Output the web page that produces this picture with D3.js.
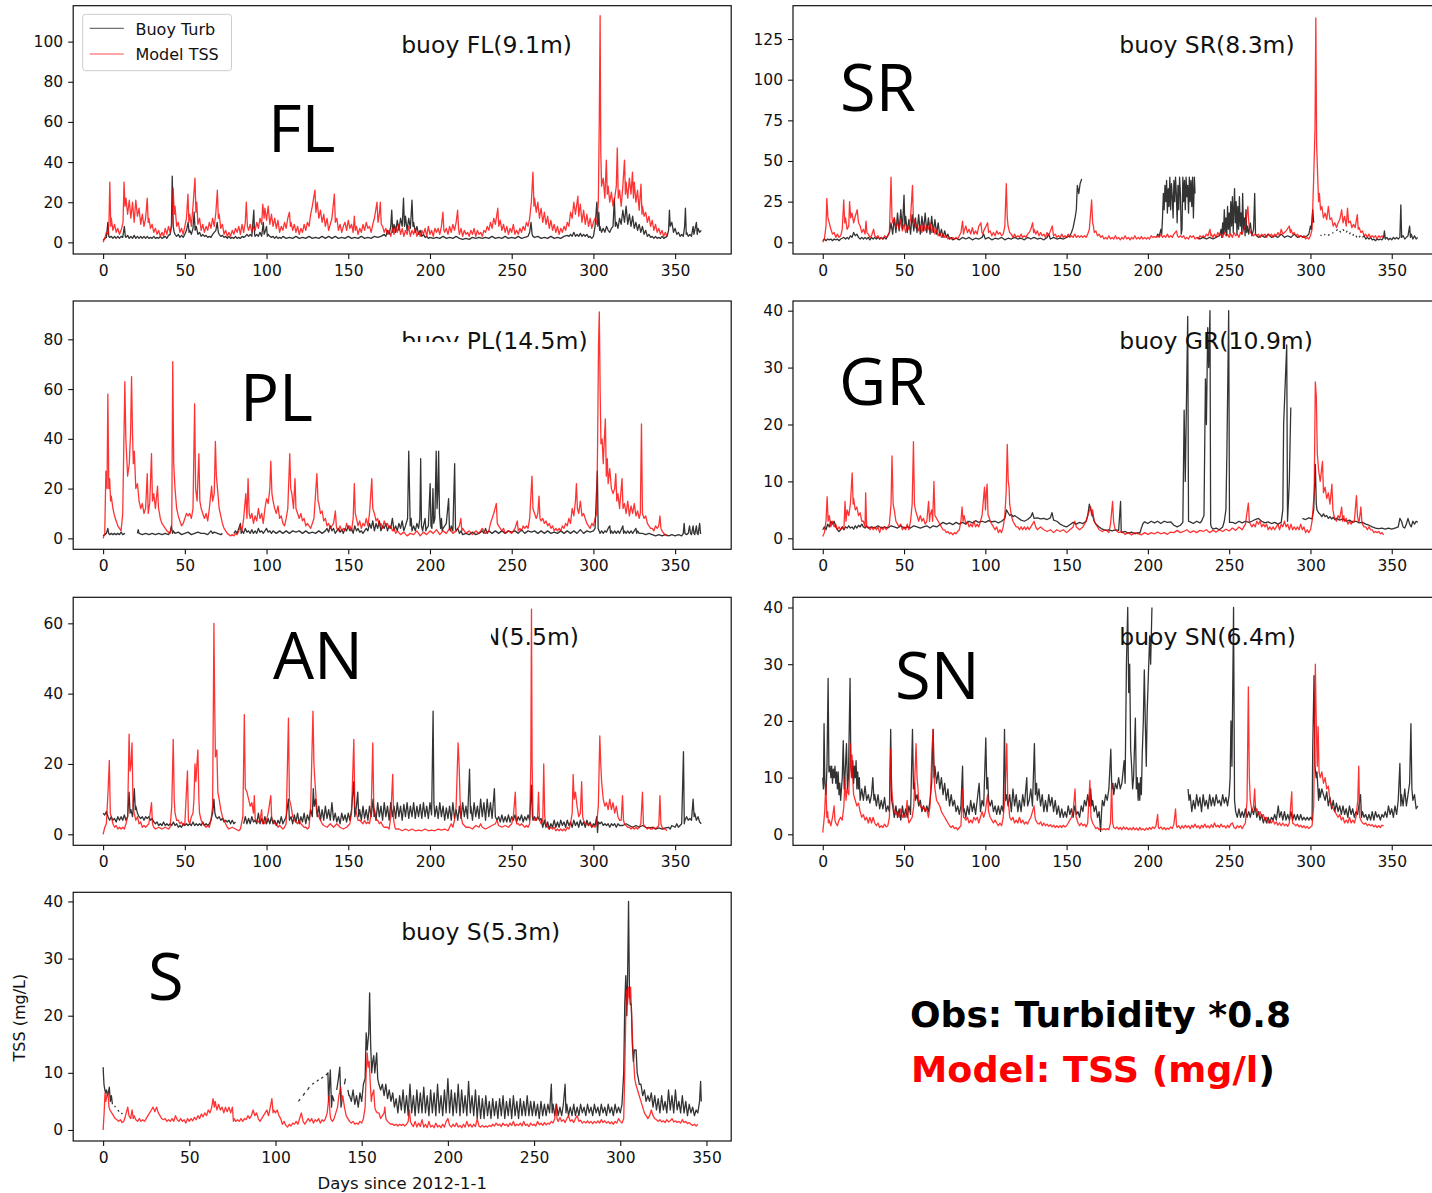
<!DOCTYPE html>
<html>
<head>
<meta charset="utf-8">
<script src="https://cdn.jsdelivr.net/npm/d3@7"></script>
<style>
  body { margin: 0; background: #fff; }
  svg text { font-family: "DejaVu Sans", sans-serif; }
</style>
</head>
<body>
<svg id="fig" width="1432" height="1193"></svg>
<script>
// ---- data: [day since 2012-1-1, value], null = no data ----
const flTurb = [[0,1],[1,2],[2,2.5],[2.9,10],[3.5,3],[4,2.5],[5,3],[6,2],[7,3],[8,2],[9,3],[10,2],[11,3],[12,2.5],[13,8],[13.6,3],[14,2.5],[15,3.5],[16,2],[17,3],[18,2],[19,3.5],[20,2],[21,3],[22,2],[23,3],[24,2],[25,3],[26,2],[27,3],[28,2],[29,2.5],[30,2],[31,3],[32,2],[33,2.5],[34,2],[35,3],[36,2],[37,2.5],[38,3],[39,2],[40,3.5],[41,4],[41.8,8],[42.3,33],[42.9,8],[43.5,5],[44,4],[45,3],[46,4],[47,2.5],[48,3.5],[49,2.5],[50,4],[51,6],[52,10],[52.6,5],[53,6],[54,4],[55,7],[55.7,15],[56.3,6],[57,8],[58,4],[59,5],[60,3],[61,4],[62,3],[63,3.5],[64,2.5],[65,3],[66,2.5],[67,4],[68,5],[69,6],[69.8,10],[70.5,5],[71,4],[72,3],[73,3.5],[74,2.5],[75,3],[76,2],[77,3],[78,2],[79,2.5],[80,2],[81,3],[82,2],[83,2.5],[84,2],[85,3],[86,2.5],[87,3],[88,4],[89,3],[90,4],[91,3],[92.2,16],[92.7,4],[93,3],[94,4],[95,3],[96,5],[97,3],[98,10],[98.5,4],[99,5],[100,8],[100.5,3],[101,4],[102,3],[103,2.5],[104,3],[105,2],[106,3],[107,2],[108,2.5],[109,2],[110,3],[112,2],[114,2.5],[116,2],[118,3],[120,2],[122,2.5],[124,2],[126,3],[128,2],[130,2.5],[132,2],[134,3],[136,2],[138,3],[140,2],[142,3],[144,2],[146,2.5],[148,2],[150,3],[152,2],[154,2.5],[156,2],[158,3],[160,2],[162,2.5],[164,2],[166,3],[168,2.5],[170,3],[172,4],[173,3],[174,6],[175,4],[176,8],[176.6,16],[177.2,5],[178,9],[179,5],[180,11],[181,6],[182,12],[183,8],[183.8,22],[184.4,8],[185,13],[186,6],[187,12],[188,7],[189,21],[189.6,8],[190,10],[191,5],[192,8],[193,4],[194,6],[195,3],[196,4],[197,2.5],[198,3],[199,2],[200,2.5],[202,2],[204,2.5],[206,2],[208,3],[210,2],[212,2.5],[214,2],[216,3],[218,2],[220,1.5],[222,2],[224,1.5],[226,2.5],[228,2],[230,2.5],[232,2],[234,2.5],[236,2],[238,3],[240,2],[242,2.5],[244,2],[246,3],[248,2],[250,2.5],[252,2],[254,3],[256,2],[258,2.5],[260,3],[261,5],[261.8,10],[262.5,4],[263,3],[264,2.5],[266,3],[268,2],[270,2.5],[272,2],[274,3],[276,2],[278,2.5],[280,2],[282,3],[284,3.5],[285,3],[286,4],[287,3],[288,5],[289,3],[290,4],[291,3],[292,4.5],[293,3],[294,4],[295,3],[296,4],[297,2.5],[298,3],[299,2],[300,3],[301,8],[302.1,20],[302.7,8],[303.3,15],[303.8,6],[304,8],[305,5],[306,7],[307,5],[308,8],[309,6],[310,5],[311,7],[312,8],[312.8,22],[313.4,8],[314,10],[315,7],[316,12],[317,9],[318,16],[319,10],[320,18],[321,9],[322,14],[323,8],[324,13],[325,7],[326,10],[327,6],[328,9],[329,5],[330,8],[331,4],[332,6],[333,3],[334,4],[335,2.5],[336,3],[337,2],[338,3],[339,2],[340,2.5],[341,2],[342,3],[343,2],[344,2.5],[345,3],[346,6],[346.5,16],[347,8],[348,10],[349,5],[350,7],[351,4],[352,5],[353,3],[354,4],[355,3],[355.8,8],[356.3,17],[356.8,4],[357,5],[358,3],[359,4],[360,3],[361,8],[361.5,4],[362,6],[363,10],[363.5,4],[364,7],[365,5],[366,6]];
const flTss = [[0,0],[1,2],[2,5],[3,4],[3.6,10],[4.1,30],[4.7,8],[5,12],[6,6],[7,9],[8,5],[9,7],[10,4],[11,6],[12.2,10],[12.8,30],[13.4,18],[14,22],[15,14],[16,21],[17,12],[18,20],[19,10],[20,21],[21,13],[22,17],[23,9],[24,14],[25,8],[26,12],[27,22],[27.6,10],[28,12],[29,7],[30,9],[31,5],[32,7],[33,4],[34,6],[35,3],[36,5],[37,3],[38,7],[39,4],[40,8],[41,5],[42,9],[42.9,27],[43.5,14],[44,18],[45,8],[46,10],[47,5],[48,7],[49,4],[50,8],[51,12],[51.9,24],[52.5,10],[53,14],[54,8],[55,18],[56.2,32],[56.8,15],[57.3,20],[58,9],[59,12],[60,6],[61,9],[62,5],[63,8],[64,6],[65,10],[66,7],[67,12],[68,8],[69,15],[69.9,26],[70.5,12],[71,14],[72,7],[73,9],[74,4],[75,6],[76,3],[77,5],[78,3],[79,6],[80,4],[81,7],[82,5],[83,8],[84,4],[85,9],[86,5],[87,10],[87.6,20],[88.3,8],[89,6],[90,9],[91,5],[92,8],[93,6],[94,10],[95,7],[96,12],[97,9],[97.7,19],[98.5,12],[99,17],[100,11],[101,18],[102,9],[103,14],[104,8],[105,12],[106,7],[107,11],[108,5],[109,8],[110,6],[111,10],[112,7],[113,12],[114,15],[114.6,8],[115,10],[116,6],[117,9],[118,5],[119,8],[120,4],[121,7],[122,5],[123,9],[124,6],[125,10],[126,8],[127,14],[128,18],[129.6,26],[130.2,15],[131,20],[132,12],[133,16],[134,10],[135,14],[136,8],[137,12],[138,6],[139,9],[140,12],[141.5,24],[142.1,10],[143,12],[144,6],[145,9],[146,5],[147,8],[148,10],[149,6],[150,11],[151,7],[152,9],[153,5],[153.7,13],[154.3,6],[155,8],[156,4],[157,7],[158,5],[159,9],[160,6],[161,10],[162,7],[163,8],[164,5],[165,9],[166,12],[167.6,20],[168.2,10],[169,14],[169.6,20],[170.2,9],[171,8],[172,5],[173,7],[174,4],[175,6],[176,3],[177,7],[178,4],[179,8],[180,5],[181,9],[182,4],[183,7],[184,3],[185,6],[186,4],[187,8],[188,3],[189,6],[190,4],[191,7],[192,3],[193,5],[194,3],[195,6],[196,4],[197,7],[198,3],[199,8],[200,4],[201,6],[202,3],[203,7],[204,5],[205,7],[206,4],[207,8],[207.9,15],[208.5,6],[209,5],[210,7],[211,4],[212,8],[213,5],[214,9],[215,6],[216,10],[216.9,16],[217.5,7],[218,4],[219,7],[220,3],[221,6],[222,4],[223,5],[224,3],[225,6],[226,4],[227,7],[228,3],[229,6],[230,4],[231,5],[232,3],[233,6],[234,5],[235,8],[236,6],[237,10],[238,7],[239,12],[240,9],[241.5,17],[242.1,8],[243,11],[244,6],[245,9],[246,5],[247,8],[248,4],[249,7],[250,5],[251,9],[252,4],[253,6],[254,4],[255,7],[256,5],[257,8],[258,6],[259,10],[260,8],[261,12],[262,20],[263,35],[263.6,18],[264,22],[265,15],[266,20],[267,12],[268,17],[269,10],[270,15],[271,9],[272,13],[273,7],[274,11],[275,6],[276,9],[277,5],[278,8],[279,4],[280,7],[281,5],[282,8],[283,6],[284,10],[285,8],[286,15],[287,12],[288,20],[289,14],[290.5,23],[291,13],[292,19],[293,10],[294,16],[295,9],[296,14],[297,8],[298,12],[299,7],[300,10],[301,12],[302,9],[303,20],[303.6,62],[304.1,113],[304.5,45],[305,28],[306,32],[307,22],[307.9,41],[308.5,24],[309,28],[310,20],[311,25],[312,18],[313,22],[314,28],[314.6,47],[315.2,22],[316,26],[317,18],[318,28],[319,41],[319.6,24],[320,30],[321,22],[322,32],[323,24],[323.9,35],[324.5,22],[325,30],[326,20],[327,26],[328,16],[329.1,29],[329.7,14],[330,18],[331,13],[332,15],[333,10],[334,13],[335,8],[336,11],[337,6],[338,9],[339,5],[340,7],[341,4],[342,6],[343,3],[344,5],[345,3]];

const srTurb = [[0,1],[1,2],[2,1],[3,2],[4,1.5],[5,2],[6,1],[7,2],[8,1.5],[9,2],[10,1],[11,2],[12,2.5],[13,3],[14,2],[15,3],[16,2],[17,4],[18,3],[19,6],[20,4],[21,5],[22,3],[23,2],[24,3],[25,2],[26,3],[27,2],[28,3],[29,1.5],[30,3],[31,2],[32,3],[33,2],[34,3],[35,2],[36,3],[37,2],[38,3],[39,2],[40,4],[41,6],[42,12],[43,5],[44,15],[45,6],[46,18],[47,7],[48,20],[49,8],[50,29],[50.5,10],[51,16],[52,6],[53,14],[54,5],[55,17],[56,7],[57,15],[58,6],[59,17],[60,5],[61,16],[62,7],[63,18],[64,6],[65,15],[66,5],[67,16],[68,6],[69,14],[70,5],[71,12],[72,4],[73,8],[74,3],[75,7],[76,3],[77,5],[78,2],[79,3],[80,1.5],[82,2.5],[84,1.5],[86,3],[88,2],[90,3],[92,1.5],[94,2.5],[96,2],[98,3],[99,5],[100,2],[102,3],[104,1.5],[106,2.5],[108,2],[110,3],[112,1.5],[114,2.5],[116,2],[118,3],[120,2],[122,2.5],[124,1.5],[126,3],[128,2],[130,3],[132,2],[134,2.5],[136,1.5],[138,3],[139,5],[140,2],[142,3],[144,2],[146,2.5],[148,2],[150,3],[152,4],[153,6],[154,9],[155.2,15],[156,20],[156.6,35],[157.5,30],[158.3,36],[159.3,39],[159.6,null],[205,null],[205.5,3],[206,5],[207,4],[208,8],[208.5,5],[209,15],[209.5,30],[210,20],[210.5,35],[211,25],[211.5,38],[212,18],[212.5,33],[213,22],[213.5,40],[214,20],[214.5,36],[215,28],[215.5,15],[216,38],[216.5,25],[217,40],[217.5,30],[218,12],[218.5,35],[219,20],[219.5,40],[220,30],[220.5,5],[221,8],[221.5,40],[222,25],[222.5,38],[223,20],[223.5,40],[224,28],[224.5,35],[225,18],[225.5,40],[226,25],[226.5,38],[227,22],[227.5,40],[228,15],[228.6,40],[229,30],[229.3,null],[230,null],[230.5,3],[232,2],[234,3],[236,2],[238,3],[240,2],[242,3],[244,4],[245,8],[245.5,3],[246,12],[246.5,5],[247,20],[247.5,6],[248,15],[248.5,4],[249,22],[249.5,8],[250,18],[250.5,5],[251,25],[251.5,10],[252,28],[252.5,6],[253.3,33],[253.8,12],[254.3,25],[254.8,5],[255.3,22],[255.8,8],[256.3,28],[256.8,10],[257.3,18],[257.8,5],[258.3,30],[258.8,8],[259.3,15],[259.8,4],[260.3,20],[260.8,6],[261.3,10],[262,5],[263,12],[264,4],[265,8],[265.7,30],[266.2,5],[267,4],[268,3],[270,4],[272,3],[274,5],[276,3],[278,4],[280,3],[282,5],[284,3],[286,4],[288,3],[290,5],[292,3],[294,4],[296,3],[298,4],[299,5],[300,10],[300.5,8],[301,15],[301.4,20],[302,12],[302.4,null],[306,null],[306.2,4],[306.8,4.5],[307,null],[308.5,5],[309.1,4.5],[309.3,null],[311,4],[311.6,5],[311.8,null],[313.5,6],[314.1,5.5],[314.3,null],[316,7],[316.6,8],[316.8,null],[318,7],[318.6,6],[318.8,null],[320,8],[320.6,7],[320.8,null],[322,6],[322.6,7],[322.8,null],[324,5],[324.6,6],[324.8,null],[326,4],[326.6,5],[326.8,null],[328,4],[328.6,3],[328.8,null],[330,3],[330.6,4],[330.8,null],[332,3],[333,4],[334,2],[335,3],[336,2],[337,3],[338,1.5],[339,2],[340,1],[341,2],[342,1.5],[343,2],[344,1.5],[345,3],[345.5,7],[346,2],[347,3],[348,1.5],[349,2.5],[350,1.5],[351,3],[352,2],[353,3],[354,2],[355,3],[355.6,23],[356.1,3],[357,4],[358,2],[359,3],[360,4],[361,10],[361.5,3],[362,5],[363,2],[364,4],[365,2],[366,3]];
const srTss = [[0,0],[1,2],[2,10],[2.5,27],[3.2,15],[4,12],[5,8],[6,5],[7,6],[8,3],[9,5],[10,3],[11,4],[12,8],[12.9,26],[13.5,12],[14,15],[15,8],[16,10],[16.5,25],[17.2,15],[18,18],[19,12],[20,16],[21.2,20],[22,12],[23,10],[24,6],[25,8],[26,5],[26.6,13],[27.2,6],[28,5],[29,3],[30,4],[31.3,8],[32,4],[33,3],[34,4],[35,2],[36,3],[37,2],[38,4],[39,3],[40,4],[41,6],[42,40],[42.6,15],[43,12],[44,15],[45,9],[46,12],[47,8],[48,14],[49,7],[50,11],[51,6],[52,10],[53,8],[54,15],[55.2,35],[55.8,12],[56.5,14],[57,9],[58,11],[59,7],[60,10],[61,6],[62,12],[63,7],[64,10],[65,8],[66,12],[67,6],[68,10],[69,5],[70,8],[71,4],[72,6],[73,3],[74,5],[75,3],[76,4],[77,2],[78,3],[79,2],[80,3],[81,2],[82,3],[83,2],[84,4],[85,6],[86,13],[86.6,5],[87,7],[88,10],[89,6],[90,8],[91,5],[92,9],[93,5],[94,7],[95,5],[96,10],[97.3,12],[97.9,6],[98.5,5],[99,7],[100,9],[101.4,12],[102,6],[103,7],[104,4],[105,6],[106,4],[107,7],[108,5],[109,6],[110,4],[111,5],[112,10],[112.9,36],[113.5,15],[114,10],[115,6],[116,5],[117,3],[118,5],[119,3],[120,4],[121,3],[122,5],[123,3],[124,4],[125,3],[126,5],[127,6],[128,8],[129.1,12],[129.7,6],[130,8],[131,5],[132,7],[133,4],[134,6],[135,4],[136,5],[137,3],[138,6],[139,4],[140,7],[141.2,10],[141.8,5],[142,4],[143,5],[144,3],[145,4],[146,3],[147,5],[148,3],[149,4],[150,3],[151,5],[152,3],[153,4],[154,3],[155,5],[156,3],[157,4],[158,3],[159,4],[160,3],[161,4],[162,3],[163,5],[164,8],[165.4,26],[166,12],[166.5,10],[167,6],[168,7],[169,4],[170,5],[171,3],[172,4],[173,2],[174,3],[175,2],[176,4],[177,2],[178,3],[179,2],[180,4],[181,2],[182,3],[183,1.5],[184,3],[185,2],[186,4],[187,2],[188,3],[189,1.5],[190,3],[191,2],[192,4],[193,2],[194,3],[195,2],[196,3.5],[197,2],[198,3],[199,2],[200,3],[201,2],[202,4],[203,3],[204,3.5],[205,3],[206,4],[207,3],[208,5],[209,3],[210,4],[211,3],[212,5],[213,3],[214,4],[215,3],[216,5],[217.6,7],[218.2,4],[219,3],[220,4],[221,3],[222,4],[223,2],[224,3],[225,2],[226,4],[227,3],[228,4],[229,2],[230,3],[231,2],[232,4],[233,3],[234,4],[235,3],[236,5],[237,4],[238.2,8],[238.8,4],[239,5],[240,3],[241,5],[242,3],[243,6],[244,4],[245,5],[246,3],[247,6],[248,4],[249,5],[250,3],[251,5],[252,3],[253,6],[254,4],[255,5],[256,3],[257,6],[258,5],[259,8],[260,10],[261.5,22],[262.1,12],[262.6,8],[263,6],[264,5],[265,4],[266,5],[267,4],[268,5],[269,3],[270,5],[271,4],[272,5],[273,3],[274,5],[275,4],[276,5],[277,3],[278,5],[279,4],[280,6],[281,4],[282,8],[283,5],[284,6],[285,7],[287,10],[287.6,6],[288,8],[289,5],[290,6],[291,4],[292,5],[293,3],[294,4],[295,3],[296,4],[297,2],[298,3],[299,2],[300,4],[301,8],[302,40],[302.8,70],[303.3,138],[303.8,60],[304.3,45],[305,25],[305.5,30],[306.2,20],[307,22],[308,15],[309,18],[310,14],[311,22],[312,14],[313,15],[314,10],[315,12],[316,9],[317,12],[318,14],[319.2,20],[320,12],[321,16],[322,10],[322.8,21],[323.5,12],[324.5,13],[325.5,9],[326.5,11],[327.5,9],[328.8,17],[329.4,8],[330,9],[331,6],[332,7],[333,4],[334,5],[335,3],[336,5],[337,3],[338,4],[339,3],[340,4],[341,2],[342,4],[343,3],[344,4],[345,2.5]];

const plTurb = [[0,1],[1,1.5],[2,2],[2.9,4],[3.4,2],[4,1.5],[5,2],[6,1.5],[7,2],[8,1.5],[9,2],[10,1.5],[11,2.5],[12,1.5],[13.4,2],[13.6,null],[20.8,null],[21,2],[21.5,3.5],[22,2],[24,1.5],[26,2],[28,1.5],[30,2],[32,1.5],[34,2],[36,1.5],[38,2],[40,1.5],[41,2.5],[41.8,5],[42.5,2],[43,3],[44,2],[46,2.5],[48,1.5],[50,2],[52,2.5],[54,1.5],[56,2],[58,2.5],[60,2],[62,2],[64,1.5],[66,3],[67,2],[68,2.5],[70,2],[72,1.5],[73,2],[73.3,null],[79.8,null],[80,2],[81,3],[82,2],[83,4],[84,6],[84.5,2],[85,3],[86,2],[87,4],[88,2.5],[89,3],[90,2],[91,3.5],[92,2],[93,3],[94,2],[95,4],[96,2.5],[97,3],[98,2],[99,3],[100,4],[101,2.5],[102,3],[103,2],[104,3],[106,2],[108,3],[110,2],[112,3],[114,2],[116,3],[118,2.5],[120,3],[122,2],[124,3],[126,2],[128,2.5],[130,2],[132,3],[134,2],[136,3],[137,4],[138,2.5],[139,5],[140,3],[141,4],[142,2],[143,3],[144,4],[145,2.5],[146,3.5],[147,2],[148,4],[149,3],[150,5],[151,3],[152,4],[153,2],[154,5],[155,3],[156,4],[157,2.5],[158,3],[159,2],[160,3],[161,4],[162,3],[163,6],[164,4],[165,7],[166,3],[167,6],[168,4],[169,7],[170,3],[171,5],[172,4],[173,6],[174,3],[175,5],[176,4],[177,8],[178,3],[179,5],[180,3],[181,6],[182,4],[183,7],[184,3],[185,5],[186.3,8],[187,35],[187.4,22],[187.9,5],[188.5,8],[189,3],[190,5],[191,3],[192,6],[193,4],[193.8,8],[194.3,32],[194.8,5],[195.5,3],[196,5],[197,8],[197.5,3],[198,4],[199,5],[200.1,22],[200.6,5],[201.2,4],[201.8,20],[202.3,6],[203,8],[203.8,35],[204.3,12],[204.8,18],[205.3,35],[205.8,10],[206.5,4],[207,8],[207.5,3],[208,4],[209,5],[210,6],[211.4,16],[211.9,4],[212.5,3],[213,5],[214,3],[215.1,30],[215.6,4],[216,3],[217,4],[218,2],[219,3],[220,1.5],[222,2],[224,1.5],[226,2.5],[228,1.5],[230,2],[232,3],[233,2],[234,4],[235,2],[236,3],[238,2],[240,3],[242,2],[244,3],[246,2],[248,3],[250,2.5],[252,3],[254,2],[256,3.5],[258,2],[260,3],[262,2.5],[264,3],[266,2],[268,3],[270,2],[272,3],[274,2],[276,2.5],[278,2],[280,3],[282,2],[284,3],[286,2],[288,3],[290,2],[292,3.5],[294,2],[296,3],[298,2.5],[300,3],[301,4],[302.4,27],[302.9,4],[303.5,3],[304,2],[305,3],[306,2],[307,3],[308,2.5],[309,4],[310,5],[310.5,2],[311,3],[312,2],[313,3],[314,2],[315,3],[316,2],[317,3.5],[318,5],[318.5,2],[319,3],[320,2],[321,3],[322,2],[323,3],[324,2],[325,3],[326,4],[326.5,2],[327,3],[328,2],[330,2],[332,1.5],[334,2],[336,1.5],[338,1],[340,1.5],[342,1],[344,1.5],[346,1],[348,1.5],[350,1],[352,1.5],[354,1],[355,2],[355.5,6],[356,2],[357,1.5],[358,2],[358.8,5],[359.4,2],[360,1.5],[361,5],[361.5,2],[362,1.5],[363,5],[363.5,2],[364,1.5],[365,6],[365.5,2],[366,2]];
const plTss = [[0,0],[1,2],[1.7,27],[2.4,20],[2.9,58],[3.5,20],[4,24],[4.6,15],[5,17],[6,12],[7,9],[8,7],[9,5],[10,4],[11,3],[12,10],[13.3,63],[13.9,40],[14.5,32],[15,25],[16,30],[16.8,42],[17.4,65],[18,42],[18.5,30],[19.1,35],[20,20],[21,22],[22,15],[23,12],[24,14],[25,10],[26,12],[27,26],[27.6,10],[28.5,14],[29.6,34],[30.2,15],[31,18],[32,12],[33.3,21],[33.9,12],[34.5,10],[35,8],[36,6],[37,5],[38,4],[39,3],[40,2.5],[41,2],[42,5],[42.6,71],[43.2,30],[44,20],[45,12],[46,9],[47,7],[48,5],[49,6],[50,8],[51,10],[52,9],[53,10],[54,8],[55,12],[56,54],[56.6,20],[57.5,15],[58.6,34],[59.2,15],[60,12],[61,10],[62,8],[63,10],[64,7],[65,12],[66.4,21],[67,15],[68,18],[68.7,39],[69.3,25],[70,20],[71,12],[72,9],[73,6],[74,4],[75,3],[76,2],[77,1.5],[78,1],[79,1.5],[80,1],[81,2],[82,1.5],[83,3],[84,5],[85,3],[86,8],[87.3,18],[88,8],[88.7,24],[89.4,10],[90,8],[91,10],[92,6],[93,9],[94,7],[95,12],[96,8],[97,10],[98,6],[99,12],[100,16],[101,14],[102,20],[102.6,31],[103.3,18],[104,15],[105,12],[106,10],[107,13],[108,8],[109,9],[110,6],[111,5],[112,8],[113,12],[114.2,34],[114.8,20],[115.5,18],[116.5,12],[117.4,24],[118,12],[119,10],[120,8],[121,10],[122,7],[123,8],[124,5],[125,6],[126,5],[127,4],[128,6],[129,8],[130.8,26],[131.5,15],[132,14],[133,10],[134,11],[135,7],[136,8],[137,5],[138,6],[139,4],[140,5],[141,6],[142.1,11],[142.7,5],[143,4],[144,3],[145,5],[146,3],[147,4],[148,3],[149,6],[150,4],[151,5],[152,3],[153,8],[153.7,22],[154.3,10],[155,8],[156,5],[157,7],[158,4],[159,6],[160,5],[161,8],[162,5],[163,10],[164.4,24],[165,12],[166,10],[167,7],[168,8],[169,5],[170,6],[171,4],[172,7],[173,5],[174,6],[175,4],[176,5],[177,3],[178,4],[179,2],[180,3],[182,1.5],[184,2.5],[186,1],[188,2],[190,1.5],[192,3],[194,1],[196,2.5],[198,1.5],[200,3],[202,2],[204,3.5],[206,1.5],[208,3],[210,2],[212,4],[214,2],[216,3],[218,5],[218.9,8],[219.5,3],[220,4],[222,2],[224,3],[226,1.5],[228,3],[230,2],[232,4],[234,2],[236,3],[237,6],[238,8],[239,10],[240.6,14],[241.2,6],[242,5],[243,4],[244,3],[245,4],[246,2],[248,3],[250,2],[252,4],[253.4,7],[254,3],[255,4],[256,3],[257,5],[258,4],[259,5],[260,4],[261,8],[262.4,25],[263,12],[264,10],[265,8],[266,10],[266.7,17],[267.3,8],[268,7],[269,8],[270,6],[271,7],[272,5],[273,6],[274,4],[275,5],[276,3],[277,4],[278,3],[279,4],[280,3],[281,5],[282,4],[283,6],[284,5],[285,8],[286,6],[287,12],[288,9],[289,15],[289.6,22],[290.2,12],[291,10],[292,15],[293,9],[294,10],[295,8],[296,6],[297,5],[298,4],[299,6],[300,5],[301,8],[302,10],[302.6,40],[303.1,77],[303.6,91],[304.1,60],[304.6,38],[305.3,40],[306,30],[306.7,40],[307.3,48],[307.9,25],[308.5,32],[309,22],[310,28],[311,20],[312,18],[313,20],[313.7,26],[314.3,15],[315,18],[316,12],[317.5,24],[318.1,12],[319,14],[320,10],[321,15],[322,9],[323,13],[324,10],[325,14],[326,9],[327,11],[328,8],[328.7,10],[329.4,46],[330,10],[331,8],[332,9],[333,6],[334,5],[335,4],[336,4],[337,3],[338,5],[339,4],[340,5],[340.7,9],[341.3,4],[342,3],[343,2],[344,1.5],[345,1]];

const grTurb = [[0,1.5],[1,2],[2,1.5],[3,2.5],[4,2],[5,3],[6,2.5],[7,3],[8,2],[9,1.5],[10,1.2],[11,1.5],[12,2],[13,1.5],[14,2],[15,1.8],[16,2.2],[17,1.8],[18,2],[19,1.6],[20,2.2],[21,1.8],[22,2.3],[23,2],[24,2.5],[25,2],[26,1.8],[27,2.2],[28,1.8],[30,2],[32,1.8],[34,2.2],[36,1.8],[38,2],[40,1.8],[42,2.2],[44,2],[46,1.8],[48,2.2],[50,1.8],[52,2],[54,1.8],[56,2.2],[58,2],[60,1.8],[62,2],[64,2.2],[66,1.8],[68,2.2],[70,2],[72,2.4],[74,2.8],[76,2.5],[78,2.7],[80,2.4],[82,2.8],[84,2.5],[86,2.8],[88,2.5],[90,3],[92,2.7],[94,3.1],[96,2.8],[98,3],[100,2.8],[102,3.1],[104,2.9],[106,3],[108,2.7],[110,3],[112,3.5],[113,5],[114,4.5],[115,4],[116,4.2],[117,3.8],[118,4],[120,3.6],[122,3.2],[124,3],[126,3.3],[128,3.8],[129,4.5],[130,3.5],[132,3.6],[134,3.4],[136,3.5],[138,3.3],[140,3.6],[141,4.5],[142,3.2],[144,3],[146,2.5],[148,2.2],[150,2],[152,2.4],[154,2.8],[156,2.5],[158,2.8],[160,2.6],[162,3],[163,4],[164,6],[165,5],[166,4],[167,3],[168,2.5],[170,2],[172,1.6],[174,1.4],[176,1.5],[178,1.3],[180,1.5],[182,1.4],[183.2,6.5],[183.6,1.2],[184,1],[186,1.2],[188,0.9],[190,1.1],[192,0.8],[194,1],[195,0.9],[196,1.8],[197,2.6],[198,2.9],[200,2.6],[202,3],[204,2.7],[206,3],[208,2.6],[210,3],[212,2.8],[214,2.9],[216,2.3],[218,2],[220,2.3],[221.5,2.8],[222.3,22.5],[223,10],[224.5,39],[225,3],[226,2.9],[228,2.6],[230,3],[232,2.7],[233,3],[234.5,4],[235.4,28],[236,20],[236.8,37],[237.4,30],[238.2,40],[238.6,2.5],[239,2],[240,1.6],[242,1.8],[244,1.5],[246,2],[247,3],[248,5],[248.6,15],[249.7,40],[250.2,2.8],[252,2.8],[254,2.6],[256,3],[258,2.7],[260,3],[262,2.8],[264,3],[266,3.3],[268,3.5],[270,3],[272,2.7],[274,2.9],[276,2.6],[278,2.8],[280,2.5],[282,2.8],[283,5],[283.5,20],[285.4,34],[285.9,3],[287,10],[287.9,23],[288.2,null],[294.8,null],[295,3.5],[297,3.3],[299,3.6],[301,3.4],[302,5],[303,13],[303.6,6],[304,5],[305,4.5],[306,4.2],[307,3.8],[308,4.3],[309,3.8],[310,4],[311,3.5],[312,3.8],[313,3.4],[314,3.7],[315,3.3],[316,3.5],[318,3.2],[320,3.4],[322,3],[324,3.2],[326,2.8],[328,3],[330,2.7],[332,2.8],[334,2.5],[336,2.3],[338,2],[340,1.8],[342,1.7],[344,1.8],[346,1.6],[348,1.8],[350,1.6],[352,1.8],[354,2],[355,3.5],[356,3],[357,2],[358,1.8],[359,2.5],[360,3.5],[361,2.5],[362,2],[363,3],[364,2.5],[365,3],[366,2.8]];
const grTss = [[0,0.3],[1,1],[2,3],[2.7,7.3],[3.3,3],[4,4],[5,2],[6,3],[7,2],[8,2.5],[9,1.5],[10,2],[11,1.5],[12,2],[13,1.5],[13.7,6.5],[14.3,3],[15,5],[16,4],[17,6],[18.1,11.5],[18.7,6],[19,7],[20,5],[21,5.5],[22,4],[23,4.5],[24,3],[25,3],[26,2],[26.4,8],[27,2],[28,2],[29,1.5],[30,2],[31,1.5],[32,2],[33,1.5],[34,2],[35,1],[36,2],[37,1.5],[38,2],[39,1.5],[40,2],[41,2.5],[42,6],[42.6,14.5],[43.3,6],[44,5],[45,3],[46,2.5],[47,2],[48,2.5],[49,1.5],[50,2],[51,1.5],[52,2.5],[53,1.5],[54,3],[55,6],[55.8,17],[56.4,6],[57,5],[58,4],[59,3],[60,4],[61,3],[62,3.5],[63,2.5],[64,3],[65.1,6.5],[65.7,3],[66,4],[67,5],[67.6,3],[68.4,10],[69,4],[70,3.5],[71,3],[72,2.5],[73,2],[74,1.5],[75,1.5],[76,1],[77,1.2],[78,0.8],[79,1],[80,0.6],[81,1],[82,0.8],[83,1.2],[84,1.5],[85,3],[85.7,5.5],[86.3,3],[87,4],[88,2.5],[89,3],[90,2],[91,2.5],[92,2],[93,3],[94,2],[95,2.5],[96,2],[97,3],[98,4],[99.5,9],[100.1,5],[100.6,8],[101.1,9.5],[101.7,4],[102,4],[103,3],[104,2.5],[105,2],[106,1.5],[107,2],[108,1],[109,1.5],[110,1],[111,2],[112,4],[112.8,8],[113.5,16.5],[114.1,10],[114.6,9],[115,6],[116,4],[117,3],[118,2.5],[119,2],[120,2],[121,1.5],[122,2],[123,1.5],[124,2],[125,1.5],[126,2],[127,1.5],[128,2],[129,2.5],[130,3],[131,2],[132,1.5],[134,2],[136,1.5],[138,1.2],[140,1.5],[142,1],[144,1.5],[146,1.2],[148,1.5],[150,1],[152,1.5],[154,2],[155,3],[156,2],[158,1.5],[160,2],[161,2.5],[162,3],[163,4],[164.8,5.5],[165.4,4],[166,5],[167,3],[168,2.5],[169,2],[170,1.5],[172,1.2],[174,1.5],[176,1],[177,2.5],[178.3,6.5],[178.9,3],[179.5,2],[180,1.5],[182,1],[184,1.2],[186,0.7],[188,1],[190,0.6],[192,1],[194,0.8],[196,0.6],[198,1],[200,0.7],[202,1],[204,0.8],[206,1.1],[208,0.8],[210,1],[212,0.7],[214,1.1],[216,1],[218,1.4],[220,1],[222,1.2],[224,1.5],[226,1],[228,1.3],[230,1],[232,1.4],[234,1.2],[236,1.5],[238,1],[240,1.4],[242,1.1],[244,1.5],[246,1.2],[248,1.6],[250,1.3],[252,1.8],[254,1.4],[256,2],[258,1.5],[259,2],[260,2.5],[261.8,6.2],[262.4,3],[263,2.5],[264,2],[265,2.5],[266,2],[267,3],[268,2.5],[269,3],[270,2],[271,2.5],[272,2],[273,2.5],[274,1.5],[275,2],[276,1.5],[277,2],[278,1.5],[279,2],[280,2.5],[281,1.5],[282,2.5],[283,2],[284,3],[285,2],[286,2.5],[287,1.5],[288,2.5],[289,1.5],[290,2],[291,1.5],[292,2],[293,1.5],[294,2.5],[295,1.5],[296,2],[297,1],[298,1.5],[299,1],[300,1.5],[301,3],[302.3,8],[303,27.5],[303.6,25],[304.2,15],[305,12],[306,10],[307.4,13.5],[308,8],[309,9],[310,7],[311,8],[312,6],[313.2,9.5],[313.8,5],[314.5,4],[315,3.5],[316,3],[317,4],[318,3.5],[319.2,5.5],[319.8,3],[320.5,4],[321,3],[322,3.5],[323,2.5],[324,3],[325,2.5],[326,3],[327,3],[328.3,7.5],[328.9,4],[329.5,3],[330,3],[331,5.5],[331.6,3],[332,2.5],[333,2],[334,2],[335,1.5],[336,2],[337,1.5],[338,1.5],[339,1],[340,1.2],[341,1],[342,1.2],[343,0.8],[344,1],[345,0.6]];

const anTurb = [[0,6],[1,5.5],[2,6.5],[3,5],[4,4],[5,5],[6,4],[7,4.5],[8,3.5],[9,5],[10,4],[11,5],[12,4],[13,5.5],[14,4],[15,5],[15.9,12],[16.5,6],[17,7],[18,5],[19.1,13],[19.7,7],[20,8],[21,6],[22,5],[23,4.5],[24,5],[25,4],[26,5],[27,4.5],[28,5],[29,4],[30,4.5],[31,3.5],[32,3],[33,3.5],[34,2.5],[35,3],[36,2.5],[37,3.5],[38,2.5],[39,3],[40,2.5],[41,3],[42,2.5],[43,3.5],[44,2.5],[45,3],[46,2],[47,2.5],[48,2],[49,3],[50,2.5],[51,3],[52,2.5],[53,3],[54,2.5],[55,3.5],[56,2.5],[57,3],[58,2.5],[59,3],[60,2.5],[61,3.5],[62,2.5],[63,3],[64,2.5],[65,3],[66,4],[67,6],[67.8,10],[68.4,6],[69,5],[70,4.5],[71,5],[72,4],[73,4.5],[74,3.5],[75,4],[76,3.5],[77,4],[78,3],[79,4],[80,3],[81,3.5],[81.3,null],[85.8,null],[86,3],[87,5],[88,3],[89,4.5],[90,3],[91,5],[92,3.5],[93,4],[94,3],[95,6],[96,3],[97,4.5],[98,3],[99,5],[100,3],[101,4.5],[102,3],[103,5],[104,3],[105,4],[106,2.5],[107,4],[108,3],[109,5],[110,3],[111,4],[112,5],[113.4,10],[114,4],[115,5],[116,3],[117,5.5],[118,3.5],[119,6],[120,3],[121,5],[122,3.5],[123,6],[124,3],[125,5.5],[126,4],[127,7],[128,5],[128.6,13],[129.2,8],[130,10],[131,5],[132,8],[133,4],[134,7],[135,4],[136,8],[137,4.5],[138,7],[139,4],[140,9],[141,4],[142,6],[143,3.5],[144,5],[145,3],[146,6],[147,4],[148,5.5],[149,3.5],[150,6],[151,4],[152,7],[153.4,15],[154,5],[155,8],[155.8,12],[156.4,5],[157,7],[158,4],[159,8],[160,4.5],[161,7],[162,4],[163,8],[164,5],[165.2,10],[165.8,5],[166,7],[167,4],[168,9],[169,5],[170,8],[171,4],[172,9],[173,5],[174,8],[175,4],[176,9],[177,5],[178,8],[179,4.5],[180,9],[181,5],[182,8],[183,4],[184,8.5],[185,5],[186,9],[187,4.5],[188,8],[189,5],[190,9],[191,4.5],[192,8],[193,5],[194,8.5],[195,4.5],[196,9],[197,5],[198,8],[199,4.5],[200,9],[201,5.5],[201.9,35],[202.4,9],[203,5],[204,8],[205,4.5],[206,9],[207,5],[208,8],[209,4],[210,7.5],[211,4.5],[212,8],[213,4],[214,9],[215,4.5],[216,7],[217,4],[218,8],[219,4.5],[220,9],[221,5],[222,8],[223,4.5],[224.2,18.5],[224.8,6],[225,8],[226,4],[227,9],[228,5],[229,8],[230,4.5],[231,10],[232,5],[233,9],[234,4],[235,10],[236,5],[237,9],[238,4.5],[239.4,13],[240,5],[241,4],[242,5],[243,3.5],[244,5.5],[245,3.5],[246,5],[247,3.5],[248,5.5],[249,3.5],[250,5],[251,4],[252,5.5],[253,3.5],[254,5],[255,4],[256,5.5],[257,3.5],[258,5],[259,4],[260,5.5],[261,4],[262.1,14],[262.7,5],[263,4],[264,5],[265,4],[266,5],[267,4],[268,4.5],[269,2],[270,4],[271,2],[272,3.5],[273,1.5],[274,3],[275,2],[276,4],[277,2],[278,3.5],[279,2],[280,4],[281,2.5],[282,3.5],[283,2],[284,4],[285,2.5],[286,3.5],[287,2],[288,4],[289,2.5],[290,3.5],[291,2],[292,4],[293,2.5],[294,3.5],[295,2],[296,4],[297,2.5],[298,3.5],[299,2],[300,3],[301,2.5],[302,5],[302.5,0.5],[303,3.5],[304,3],[305,3.5],[306,2.5],[307,3],[308,2.5],[309,3],[310,2],[311,3],[312,2.5],[313,3],[314,2],[315,3],[316,2.5],[318,2.5],[320,3],[322,2.5],[324,2],[326,2.5],[328,2],[330,2.5],[332,2],[334,1.8],[336,2],[338,1.5],[340,1.8],[342,1.5],[344,1.8],[346,2],[347,1.5],[348,2.5],[350,2],[351,3],[352,2],[353,2.5],[354,3],[355.1,23.5],[355.6,3],[356,4],[357,5],[358,4],[359,4.5],[360,4],[361,10],[361.6,5],[362,6],[363,4],[364,5],[365,3.5],[366,3]];
const anTss = [[0,0],[1,2],[2,3],[3,12],[3.8,21],[4.4,6],[5,5],[6,3],[7,2],[8,2.5],[9,1.5],[10,2],[11,1.5],[12,2],[13,1.5],[14,3],[15,5],[15.9,28.5],[16.5,18],[17.1,20],[17.7,26],[18.3,8],[19,6],[20,4],[21,5],[22,3],[23,3.5],[24,2],[25,2.5],[26,2],[27,2.5],[28,3],[29.6,9],[30.2,3],[31,2],[32,1.5],[34,2],[36,1.5],[38,2],[40,1.5],[41,2],[42,8],[42.9,27],[43.5,10],[44,6],[45,4],[46,4],[47,3],[48,3.5],[49,2.5],[50,3],[51.6,18],[52.2,4],[53,3],[54,5],[55,6],[55.6,10],[56.2,20],[56.8,15],[57.4,20],[58,24],[58.6,10],[59,6],[60,4],[61,3],[62,2.5],[63,2],[64,2.5],[65,2],[66,4],[67,8],[67.5,40],[67.8,60],[68.2,40],[68.7,22],[69.6,24],[70.2,12],[71,10],[72,7],[73,5],[74,4],[75,3],[76,2],[77,1.5],[79,2],[81,1.5],[83,1],[84,1.5],[85.5,5],[86.4,34],[87,13],[88,12],[89,10],[90,8],[91,9],[92,6],[92.5,11],[93.1,4],[94,4],[95,3.5],[96,4],[97,7],[97.6,3],[98,4],[99,3],[100,4],[101,6],[102.6,11],[103.2,4],[104,4],[105,3],[106,3],[107,2],[108,2.5],[109,2],[110,1.5],[111,2],[112,3],[113.4,33],[114,10],[115,8],[116,5],[117,4],[118,3.5],[119,3],[120,4],[121,3],[122,2.5],[123,2],[124,2],[125,1.5],[126,2],[127,8],[128.4,35],[129,20],[129.6,15],[130.5,9],[131,6],[132,5],[133,4],[134,3],[135,2.5],[137,2],[139,3],[141,2],[143,3],[145,2],[147,1.5],[149,2],[151,3],[152,6],[153.4,27],[154,8],[155,6],[156,4],[157,4],[158,3.5],[159,3],[160,4],[161,3],[162,3.5],[163,3],[164,6],[165,26],[165.6,8],[166.2,6],[167,4],[168,4],[169,3],[170,3.5],[171,2.5],[172,2],[173,2],[174,2],[175,1.5],[176,5],[177.2,17],[177.8,4],[178.5,2],[179,1.5],[181,1.5],[183,1],[185,1.5],[187,1],[189,1.5],[191,1],[193,1.2],[195,1],[197,1.5],[199,1],[201,1.2],[203,1],[205,1.5],[207,1.2],[209,1.5],[211,1],[212,2],[213,3],[214,2],[215,4],[216,8],[217.2,26],[217.8,20],[218.4,10],[219,5],[220,3],[221,2.5],[222,2],[224,2],[226,1.5],[228,2.5],[230,2],[231,3],[232,2],[234,1.5],[236,2],[238,2.5],[240,3],[241,4],[242,2.5],[244,2],[246,2.5],[248,2],[250,3],[251,5],[252.2,12],[252.8,4],[253,3],[254,3],[255,2.5],[256,3],[257,2.5],[258,2],[259,2.5],[260,2],[261,3],[261.7,20],[262.1,64],[262.5,20],[263,5],[264,4],[265,4],[265.8,5],[266.4,12],[267,4],[268,3],[269,4],[269.6,20],[270.2,5],[271,3],[272,2],[273,1.5],[274,2],[275,1.5],[276,2],[277,1],[278,1.5],[279,1],[280,1.5],[281,1],[282,1.5],[283,1],[284,2],[285,1.5],[286,3],[287,6],[287.6,17],[288.2,10],[289,12],[290,8],[291,5],[292,6],[292.8,15],[293.4,5],[294,4],[295,3],[296,3],[297,2.5],[298,3],[299,2],[300,2.5],[301,2],[302,3],[303,8],[303.9,28],[304.5,20],[305,15],[306,10],[307,8],[308,9],[309,7],[310,10],[311,7],[312,9],[313,6],[314,8],[315,5],[316,4],[317,4],[317.8,11],[318.4,4],[319,3],[320,2.5],[321,2],[322,2],[323,1.5],[324,2],[325,1.5],[326,2],[327,1.5],[328,2],[329,3],[330,12],[330.6,3],[331,2.5],[332,2],[333,1.5],[334,2],[335,1.5],[336,1.5],[337,2],[338,1.5],[339,2],[340,2.5],[340.7,11],[341.3,3],[342,2],[343,1.5],[344,1.5],[345,1]];

const snTurb = [[0,10],[0.4,8],[0.8,19.5],[1.3,9],[2,7],[2.6,12],[3.3,27.5],[3.8,11],[4.5,12],[5,10],[5.5,12],[6,9],[6.5,11.5],[7,10],[7.5,12],[8,9],[8.5,11],[9,8],[9.5,11],[10,7],[10.5,9],[11,6],[11.5,8],[12,10],[12.6,16.5],[13.2,8],[13.8,11],[14.6,16],[15.2,8],[15.8,10],[16.8,27.5],[17.3,12],[18,10],[18.5,13],[19,9],[19.5,12],[20,10],[20.5,13],[21,8],[21.5,11],[22,8],[22.5,10],[23,6],[24,8],[25,6],[26,8.5],[27,6],[28,7],[29,5.5],[30,7],[30.8,10],[31.5,6],[32,7],[33,5],[34,7],[35,4.5],[36,6],[37,4.5],[38,6.5],[39,4],[40,5],[41,4],[41.8,18.5],[42.4,6],[43,5],[44,3],[45,5],[46,3],[47,4.5],[48,2.5],[49,5],[50,3],[51,4.5],[52,3],[53,5],[54,3.5],[55.2,18.5],[55.8,8],[56.5,9],[57,6],[58,7],[59,5],[60,6],[61,4],[62,5],[63,4],[64,5],[65,4],[66,6],[67,9],[67.9,18.5],[68.5,10],[69,12],[70,9],[71,11],[72,8],[73,10],[74,7],[75,9],[76,6],[77,8],[78,5],[79,7],[80,5],[81,6],[82,4],[83,5],[84,3.5],[85,5],[86,12],[86.5,4],[87,4.5],[88,3],[89,5],[90,3.5],[91,6],[92,4],[93,5.5],[94,3.5],[95,6],[96.2,9],[97,4],[98,6],[99,5],[100.3,17],[100.9,8],[101.5,10],[102,6],[103,5],[104,6],[105,4],[106,5],[107,3.5],[108,5],[109,3.5],[110,5],[111,4],[111.8,18.5],[112.4,6],[113,7],[114,5],[115,7],[116,4],[117,8],[118,5],[119,7],[120,4],[121,6],[122,4],[123,7],[124,5],[125.5,10],[126,5],[127,6],[128,8],[129,5],[130.2,16],[130.8,7],[131.5,9],[132,6],[133,8],[134,5],[135,7],[136,4],[137,6],[138,4],[139,7],[140,5],[141,6.5],[142,4],[143,6],[144,3.5],[145,5],[146,3],[147,4.5],[148,3],[149,4],[150,3],[151,5],[152,3.5],[153,4.5],[154,3],[155,5],[156,3.5],[157,4],[158,3],[159,5],[160,4],[161,6],[162,5],[163,7],[164,5],[164.8,8],[165.5,5],[166,6],[167,4],[168,5],[169,3],[170,4],[170.9,0.5],[171.5,4],[172,6],[173,5],[174,7],[175,6],[176,8],[177.2,15],[177.8,8],[178.5,9],[179,7],[180,9],[181,8],[182,10],[183,8],[184,9],[185.4,13],[186,9],[186.8,30],[187.6,40],[188.2,25],[188.8,30],[189.4,15],[190,12],[190.6,8],[191.2,10],[192.3,20.5],[192.9,8],[193.5,10],[194,6],[194.5,9],[195,6],[195.5,10],[196,7],[196.5,14],[197.2,20],[197.8,29],[198.4,20],[199,12],[199.6,22],[200.3,28],[201.1,35],[201.7,30],[202.5,40],[202.8,null],[224.5,null],[224.7,8],[225.3,6],[226,7],[227,4],[228,6],[229,4.5],[230,7],[231,5],[232,6.5],[233,4],[234,7],[235,5],[236,6],[237,4.5],[238,7],[239,5],[240,6.5],[241,5],[242,7],[243,5.5],[244,6],[245,5],[246,7],[247,5.5],[248,6.5],[249,5],[250,7],[250.6,10],[251.1,20],[251.7,12],[252.7,40],[253.3,6],[254,4],[255,3],[256,4.5],[257,3],[258,4],[259,3],[260,4.5],[261,3],[262,4],[263,3],[264,4.5],[265,3.5],[266,5],[267,3],[268,4],[269,2.5],[270,3.5],[271,2],[272,3],[273,2],[274,3],[275,2],[276,3],[277,2.5],[278,3.5],[279,2.5],[280.2,5],[281,3],[282,4],[283,2.5],[284,4],[285,2.5],[286,3.5],[287,2.5],[288,4],[289,2.5],[290,3.5],[291,2.5],[292,3.5],[293,2.5],[294,3.5],[295,2.5],[296,3],[297,2.5],[298,3],[299,2.5],[300,3],[301,2.5],[301.4,15],[302.2,28],[302.8,12],[303.5,10],[304,11],[305,6],[305.5,8],[306,6.5],[307,8],[308,7],[309,6],[310,7.5],[311,5],[312,6.5],[313,4.5],[314,6],[315,4],[316,5.5],[317,4],[318,5],[319,3.5],[320,5],[321,3.5],[322,4.5],[323,3],[324,5],[325,3.5],[326,4.5],[327,3],[328,4],[329,3.5],[330.8,7],[331.4,3],[332,4],[333,3],[334,3.5],[335,2.5],[336,3.5],[337,2.5],[338,4],[339,2.5],[340,4],[341,3],[342,3.5],[343,2.5],[344,3.5],[345,3],[346,4],[347,3],[348,5],[349,3.5],[350,4.5],[351,3],[352,5],[353,3.5],[354,6],[355,12.5],[355.6,5],[356,7],[357,5],[358,8],[359,5],[360,7],[361,9],[361.8,19.5],[362.4,8],[363,6],[364,7],[365,4.5],[366,5]];
const snTss = [[0,0.3],[0.6,2],[1.2,4],[1.9,9],[2.5,3],[3,4],[3.5,2],[4,2.5],[5,1.5],[6,3],[7,5],[7.5,2.5],[8,2],[9,1.5],[10,2.5],[11,3],[12,2.5],[13,5],[13.7,10],[14.3,6],[15,8],[16,7],[17,16],[17.6,10],[18,14],[18.6,9],[19,7],[20,6],[21,5],[22,5.5],[23,4],[24,3],[25,3.5],[26,2.5],[27,3],[28,2],[29,3],[30,2],[31,3],[32,2],[33,1.5],[34,2],[35,1.2],[36,1.5],[37,1.2],[38,1.8],[39,1.3],[40,1.5],[41,3],[41.8,15],[42.4,8],[43,6],[44,4],[45,3.5],[46,4],[47,3],[48,4.5],[49,3],[50,3.5],[51,3],[51.9,6],[52.5,3],[53,2],[54,2.5],[55,3],[56,5],[57.4,16],[58,10],[58.6,8],[59,6],[60,5],[61,4.5],[62,5],[63,4],[64,4.5],[65,3],[66,5],[67.2,15],[67.9,18.5],[68.5,10],[69,8],[70,6],[71,5.5],[72,5],[73,4],[74,3.5],[75,3],[76,2.5],[77,2],[78,1.5],[79,1.2],[80,1.5],[81,1],[82,1.2],[83,0.8],[84,1.2],[85,1.5],[86,8],[86.6,3],[87,3],[88,2.5],[89,3],[90,2],[91,2.5],[92,2],[93,3],[94,2.5],[95,3],[96,2],[97,3],[98,4],[99,3],[100,4],[101.4,7],[102,4],[103,3],[104,2.5],[105,2],[106,2.5],[107,2],[108,1.5],[109,2],[110,1.5],[111,3],[112,6],[113.2,16],[113.8,6],[114.4,5],[115,3],[116,2.5],[117,3],[118,2],[119,2.5],[120,2],[121,3],[122,2],[123,2.5],[124,1.8],[125,2.2],[126,1.8],[127,2.5],[128,3],[129,4],[130,5],[130.6,3],[131,2.5],[132,2],[133,1.8],[134,2.2],[135,1.5],[136,2],[137,1.5],[138,1.8],[139,1.4],[140,1.7],[141,1.3],[142,1.6],[143,1.2],[144,1.5],[145,1.2],[146,1.5],[147,1.2],[148,1.6],[149,1.3],[150,1.5],[151,2],[152,2.5],[153,3],[154,4],[155.2,8],[155.8,3],[156,3],[157,2],[158,1.5],[159,2],[160,1.5],[161,1.8],[162,1.3],[163,2],[164.3,9.5],[165,3],[166,2],[167,1.5],[168,1],[169,1.2],[170,0.8],[171,1],[172,0.8],[173,1],[174,0.8],[175,1],[176,0.8],[177,2],[177.7,9],[178.3,2],[179,1.2],[180,1],[181,1.3],[182,0.9],[183,1.2],[184,0.8],[185,1.3],[186,0.9],[187,1.2],[188,0.8],[189,1.1],[190,0.8],[191,1.2],[192,0.8],[193,1.1],[194,0.7],[195,1.2],[196,0.8],[197,1],[198,0.7],[199,1.1],[200,0.8],[201,1.2],[202,0.9],[203,1.3],[204,1],[205,1.5],[206,3.5],[206.5,1.2],[207,1],[208,1.3],[209,0.9],[210,1.2],[211,0.8],[212,1.1],[213,0.9],[214,1.3],[215,1],[216,1.8],[217,4.5],[217.6,1.5],[218,1.2],[219,1.5],[220,1],[221,1.5],[222,1.1],[223,1.6],[224,1.2],[225,1.5],[226,1],[227,1.6],[228,1.2],[229,1.8],[230,1.2],[231,1.5],[232,1],[233,1.6],[234,1.2],[235,1.8],[236,1.2],[237,1.5],[238,1.1],[239,1.7],[240,1.2],[241,2],[242,1.3],[243,1.6],[244,1.2],[245,1.8],[246,1.3],[247,1.5],[248,1.1],[249,1.6],[250,1.2],[251,1.8],[252,2],[253,1.2],[254,1],[255,1.5],[256,1.2],[257,1.5],[258,1],[259,1.5],[260,2],[261,6],[261.8,26],[262.4,10],[263,6],[264,4],[265,5],[265.7,8],[266.3,4],[267,4.5],[268,3.5],[269,4],[270,3],[271,3.5],[272,2.5],[273,3],[274,2],[275,2.5],[276,2],[277,2.5],[278,1.8],[279,2.2],[280,1.6],[281,2],[282,1.5],[283,2],[284,1.5],[285,1.8],[286,1.4],[287,2],[288.5,7.5],[289,2],[290,1.8],[291,1.5],[292,1.8],[293,1.3],[294,1.6],[295,1.2],[296,1.5],[297,1.1],[298,1.4],[299,1],[300,1.3],[301,1.5],[302,5],[303,30],[303.6,19],[304.2,12],[304.7,19],[305.3,11],[306,10],[307,11],[308,9],[309,10],[310,8],[311,8.5],[312,6],[313,5],[314,4.5],[315,4],[316,3.5],[317,3],[318,3.5],[319,2.5],[320,3],[321,2],[322,2.5],[323,2],[324,3],[325,2],[326,2.5],[327,2],[328,3],[329.1,6],[329.7,12],[330.3,3],[331,2.5],[332,2],[333,1.8],[334,2],[335,1.5],[336,1.8],[337,1.5],[338,1.7],[339,1.3],[340,1.6],[341,1.2],[342,1.5],[343,1.2],[344,1.6],[345,1.5]];

const sTurb = [[0,11],[0.5,8],[1,7],[1.5,6.5],[2,7],[2.5,6],[3,6.5],[3.6,7.5],[4.2,5],[4.8,6],[5.4,4.5],[5.8,null],[6.6,4.2],[7.2,4],[7.6,null],[8.6,3.5],[9.2,3.2],[9.6,null],[10.6,3],[11.2,2.8],[11.6,null],[113,null],[113.3,5],[114.3,5.4],[114.6,null],[116,6],[117,6.5],[117.3,null],[118.6,7],[119.6,7.5],[120,null],[121.3,8],[122.3,8.2],[122.6,null],[124,8.5],[125,8.8],[125.3,null],[126.6,9],[127.6,9.3],[128,null],[129.3,9.6],[130.4,10],[130.8,5],[131.8,10.5],[132.5,4],[133,6],[134,5],[134.5,null],[135.5,7],[136.5,9],[137.3,11],[138,4],[138.5,5],[139,null],[140,8],[140.6,9],[141,null],[142,7],[142.6,6],[143,6],[144,5],[145,7],[146,4.5],[147,6],[148,4],[149,6.5],[150,5],[151,8],[152,9],[152.6,17],[153.2,14],[154.1,17],[154.6,24],[155.2,15],[155.8,10],[156.4,12],[157,13],[157.6,10],[158.7,13.5],[159.3,9],[160,8],[161,7],[162,8],[163,6],[164,8],[165,5.5],[166,7],[167,5],[168,6.5],[169,4],[170,5.5],[171,3],[172,6],[173,3.5],[174,7],[175,3],[176,6],[177,2.5],[178,8],[179,3],[180,6],[181,2.5],[182,7],[183,3],[184,6.5],[185,3],[186,7.5],[187,3],[188,6],[189,2.5],[190,7],[191,3],[192,6.5],[193,2.5],[194,8],[195,3],[196,6],[197,2.5],[198,7],[199,3],[200,9],[201,3],[202,7],[203,2.5],[204,6.5],[205,3],[206,8],[207,2.5],[208,7],[209,3],[210,6],[211,2.5],[212,8.5],[213,3],[214,6],[215,2.5],[216,7],[217,2],[218,6],[219,2],[220,5.5],[221,2],[222,6],[223,2.5],[224,5],[225,2],[226,5.5],[227,2.5],[228,5],[229,2],[230,5.5],[231,2.5],[232,6],[233,2],[234,5],[235,2.5],[236,5.5],[237,2],[238,6],[239,2.5],[240,5],[241,2],[242,5.5],[243,2.5],[244,5],[245,2.5],[246,6],[247,2.5],[248,5],[249,2.5],[250,5],[251,2.5],[252,4.5],[253,2],[254,5],[255,2.5],[256,4.5],[257,2.5],[258,4.5],[259,3],[260,8],[260.5,3],[261,4.5],[262,2.5],[263,4.5],[264,2.5],[265,4],[266,2.5],[267,4.5],[268,8],[268.5,3],[269,4.5],[270,2.5],[271,4],[272,2.5],[273,4.5],[274,2.5],[275,4],[276,2.5],[277,4.5],[278,3],[279,4],[280,2.5],[281,4.5],[282,3],[283,4],[284,2.5],[285,4.5],[286,3],[287,4],[288,2.5],[289,4.5],[290,3],[291,4],[292,2.5],[293,4.5],[294,3],[295,4],[296,2.5],[297,4.5],[298,3],[299,4],[300,3],[301,4.5],[302,10],[302.6,22],[303.2,27],[303.8,20],[304.3,28],[304.8,40],[305.3,25],[305.8,22],[306.4,22],[307,15],[307.6,12],[308.2,14],[309.2,14],[309.8,10],[310.5,9],[311,8],[312,8],[313,6],[314,7],[315,5],[316,6],[317,5],[318,6.5],[319,4],[320,6],[321,3.5],[322,5.5],[323,3],[324,6],[325,3.5],[326,5],[327,3],[328,7],[329,3.5],[330,6],[331,3],[332,7],[333,3.5],[334,5],[335,3],[336,6],[337,3],[338,5],[339,2.5],[340,4.5],[341,3],[342,4],[343,2.5],[344,3.5],[345,3],[346,5],[346.6,8.5],[347,5]];
const sTss = [[0,0],[0.6,3],[1.1,6.5],[1.6,5],[2.2,6],[2.8,6.5],[3.4,4],[4,3.5],[5,3],[6,2.5],[7,2],[8,1.8],[9,1.5],[10,1.8],[11,1.3],[12,1.5],[13,2.5],[14.3,4],[15,2.5],[16,2],[16.8,3.5],[17.5,2],[18,2.5],[19,1.8],[20,1.5],[21,2],[22,1.5],[23,1.8],[24,1.5],[25,2],[26,2.5],[27,3],[28,3.5],[29,4],[30,3.2],[31,4],[32,3],[33,2.5],[34,2],[35,1.8],[36,2],[37,1.5],[38,1.8],[39,1.5],[40,2],[41,1.5],[42,2.5],[43,1.8],[44,1.5],[45,2],[46,1.5],[47,1.8],[48,1.2],[49,2],[50,1.5],[51,2],[52,1.6],[53,2.2],[54,1.8],[55,2.5],[56,2],[57,2.8],[58,2.3],[59,3],[60,2.5],[61,3.5],[62,3],[63,4],[63.8,5.5],[64.5,4],[65,5],[66,3.5],[67,4.5],[68,3.5],[69,4],[70,3],[71,4],[72,3.2],[73,4],[74,3],[75,4],[75.6,1.5],[76,2],[77,1.5],[78,1.8],[79,1.5],[80,2],[81,1.5],[82,2],[83,1.8],[84,2.5],[85,2],[86,2.5],[87,3.5],[88,2.5],[89,3],[90,2],[91,1.5],[92,2],[93,2.5],[94,3],[95,3.5],[96,2.5],[97,4],[97.9,5.5],[98.6,3],[99,3.5],[100,3],[101,3.5],[102,2.5],[103,2],[104,1],[105,1.5],[106,0.8],[107,0.5],[108,1],[109,0.7],[110,1.2],[111,1],[112,1.5],[113,1],[114,2],[115,3],[116,1.5],[117,1],[118,1.5],[119,2],[120,1.5],[121,2],[122,1.2],[123,1.8],[124,1.5],[125,2],[126,1.2],[127,1.8],[128,1.5],[129,2],[130,3],[131,6],[131.6,3],[132,2],[133,1.5],[134,2],[135,3],[136,4],[136.8,6],[137.8,7.5],[138.5,5],[139,6],[140,4],[141,2.5],[142,2],[143,1.5],[144,1.2],[145,1.5],[146,1],[147,1.2],[148,1],[149,1.5],[150,1.2],[151,2],[152,4],[152.6,10],[153.2,13.5],[153.8,11],[154.4,12],[155,8],[155.6,5],[156,6],[157,7],[157.6,4],[158,3.5],[159,3],[160,3],[161,2],[162,2.5],[163,3],[163.4,4],[164,2],[165,1.5],[166,1.2],[167,1],[168,1],[169,0.8],[170,1],[171,0.7],[172,1],[173,0.8],[174,1],[175,0.7],[176,1],[177,1.5],[177.7,3.5],[178.3,1.5],[179,1],[180,0.6],[181,1.5],[182,0.5],[183,1.2],[184,0.6],[185,1.8],[186,0.5],[187,1],[188,0.4],[189,1.5],[190,0.5],[191,0.8],[192,0.4],[193,1.2],[194,0.5],[195,0.8],[196,0.4],[197,1],[198,0.5],[199,1.5],[200,2],[201,0.8],[202,0.5],[203,1],[204,0.6],[205,1.2],[206,0.5],[207,0.8],[208,0.4],[209,1],[210,0.5],[211,1.5],[212,0.6],[213,1],[214,0.5],[215,1],[216,0.6],[217,2],[218,0.7],[219,0.5],[220,0.8],[221,0.5],[222,0.7],[223,0.5],[224,0.8],[225,0.6],[226,1],[227,0.7],[228,1.2],[229,0.8],[230,1],[231,0.6],[232,1.2],[233,0.8],[234,1],[235,0.6],[236,1.2],[237,0.8],[238,1.5],[239,0.7],[240,1],[241,0.8],[242,1.2],[243,0.7],[244,1.5],[245,0.8],[246,1],[247,0.6],[248,1.2],[249,0.8],[250,1],[251,0.7],[252,1.5],[253,0.9],[254,1.2],[255,0.8],[256,1.3],[257,0.9],[258,1.2],[259,1],[260,1.5],[261,1.2],[262,2],[262.7,4.5],[263.3,2],[264,1.5],[265,2.2],[266,1.5],[267,1.8],[268,1.3],[269,2],[270,2.5],[271,1.5],[272,1.8],[273,1.3],[274,2],[275,2.5],[276,1.5],[277,1.7],[278,1.2],[279,1.5],[280,1.2],[281,1.6],[282,1.2],[283,1.5],[284,1.1],[285,1.5],[286,1.2],[287,1.6],[288,1.2],[289,1.8],[290,1.3],[291,1.6],[292,1.2],[293,1.5],[294,1.1],[295,1.4],[296,1],[297,1.5],[298,1.2],[299,2],[300,1.5],[301,1.2],[302,2],[302.6,10],[303.2,20],[303.6,24.5],[304.2,22],[304.8,25],[305.4,23],[306,25],[306.6,20],[307.2,15],[307.8,12],[308.4,9],[309,8],[310,7],[311,6],[312,5],[313,4],[314,3],[315,2.5],[316,2],[317,2.5],[318,3.5],[319,2.5],[320,2],[321,1.8],[322,1.5],[323,1.8],[324,1.4],[325,1.6],[326,1.3],[327,1.8],[328,1.4],[329,1.6],[330,2],[331,1.4],[332,1.6],[333,1.3],[334,1.5],[335,1.2],[336,1.8],[337,1.3],[338,1.5],[339,1.1],[340,1.3],[341,1],[342,0.8],[343,1],[344,0.7],[345,1]];

// ---- axis ticks ----
const dayTicks = [0, 50, 100, 150, 200, 250, 300, 350];
const flYTicks = [0, 20, 40, 60, 80, 100];
const srYTicks = [0, 25, 50, 75, 100, 125];
const plYTicks = [0, 20, 40, 60, 80];
const grYTicks = [0, 10, 20, 30, 40];
const anYTicks = [0, 20, 40, 60];
const snYTicks = [0, 10, 20, 30, 40];
const sYTicks = [0, 10, 20, 30, 40];

// ---- layout ----
const L = { x0: 73.2, x1: 731.2 };
const R = { x0: 793, x1: 1447.5 };
const panels = [
  { name: "FL", title: "buoy FL(9.1m)", turb: flTurb, tss: flTss, yTicks: flYTicks, yDom: [-5.8, 117.9], xDom: [-18.3, 384.3], col: L, top: 5.7, bottom: 254, lab: [268, 152], legend: true },
  { name: "SR", title: "buoy SR(8.3m)", turb: srTurb, tss: srTss, yTicks: srYTicks, yDom: [-7.2, 145.5], xDom: [-18.3, 384.3], col: R, top: 5.7, bottom: 254, lab: [840, 111] },
  { name: "PL", title: "buoy PL(14.5m)", turb: plTurb, tss: plTss, yTicks: plYTicks, yDom: [-4.4, 95.4], xDom: [-18.3, 384.3], col: L, top: 301, bottom: 549.3, lab: [240, 421], cover: [228, 342, 238, 104] },
  { name: "GR", title: "buoy GR(10.9m)", turb: grTurb, tss: grTss, yTicks: grYTicks, yDom: [-1.93, 41.7], xDom: [-18.3, 384.3], col: R, top: 301, bottom: 549.3, lab: [839, 405] },
  { name: "AN", title: "buoy AN(5.5m)", turb: anTurb, tss: anTss, yTicks: anYTicks, yDom: [-3.13, 67.4], xDom: [-18.3, 384.3], col: L, top: 597.3, bottom: 845.3, lab: [273, 679], cover: [262, 612, 229, 78] },
  { name: "SN", title: "buoy SN(6.4m)", turb: snTurb, tss: snTss, yTicks: snYTicks, yDom: [-1.94, 41.8], xDom: [-18.3, 384.3], col: R, top: 597.3, bottom: 845.3, lab: [895, 699] },
  { name: "S", title: "buoy S(5.3m)", turb: sTurb, tss: sTss, yTicks: sYTicks, yDom: [-1.93, 41.6], xDom: [-17.35, 364.35], col: L, top: 892.3, bottom: 1141, lab: [148, 1000], axisLabels: true }
];

const svg = d3.select("#fig");
const TURB = "#000", TSS = "#ff0000";

panels.forEach((p, i) => {
  const x = d3.scaleLinear().domain(p.xDom).range([p.col.x0, p.col.x1]);
  const y = d3.scaleLinear().domain(p.yDom).range([p.bottom, p.top]);
  const g = svg.append("g").attr("class", "panel-" + p.name);

  const clipId = "clip" + i;
  g.append("clipPath").attr("id", clipId)
    .append("rect")
    .attr("x", p.col.x0).attr("y", p.top)
    .attr("width", p.col.x1 - p.col.x0).attr("height", p.bottom - p.top);

  const line = d3.line()
    .defined(d => d[1] != null)
    .x(d => x(d[0]))
    .y(d => y(d[1]));

  const plot = g.append("g").attr("clip-path", `url(#${clipId})`);
  plot.append("path").attr("d", line(p.turb))
    .attr("fill", "none").attr("stroke", TURB).attr("stroke-opacity", 0.8)
    .attr("stroke-width", 1.3).attr("stroke-linejoin", "round");
  plot.append("path").attr("d", line(p.tss))
    .attr("fill", "none").attr("stroke", TSS).attr("stroke-opacity", 0.8)
    .attr("stroke-width", 1.3).attr("stroke-linejoin", "round");

  // axes
  const xAxis = d3.axisBottom(x).tickValues(dayTicks).tickSize(5).tickPadding(6).tickSizeOuter(0);
  const yAxis = d3.axisLeft(y).tickValues(p.yTicks).tickSize(5).tickPadding(5).tickSizeOuter(0);
  const gx = g.append("g").attr("transform", `translate(0,${p.bottom})`).call(xAxis);
  const gy = g.append("g").attr("transform", `translate(${p.col.x0},0)`).call(yAxis);
  [gx, gy].forEach(a => {
    a.select(".domain").remove();
    a.selectAll(".tick line").attr("stroke", "#111").attr("stroke-width", 1.1);
    a.selectAll(".tick text").attr("fill", "#111")
      .style("font-family", "'DejaVu Sans', sans-serif").style("font-size", "15.5px");
  });

  // frame
  g.append("rect")
    .attr("x", p.col.x0).attr("y", p.top)
    .attr("width", p.col.x1 - p.col.x0).attr("height", p.bottom - p.top)
    .attr("fill", "none").attr("stroke", "#111").attr("stroke-width", 1.2);

  // title inside axes
  g.append("text")
    .attr("x", p.col.x0 + (p.col.x1 - p.col.x0) * 0.5 - 1)
    .attr("y", p.top + 47.5)
    .style("font-size", "23.5px").attr("fill", "#111")
    .text(p.title);

  // white text box pasted over the figure (hides part of the title)
  if (p.cover) {
    g.append("rect")
      .attr("x", p.cover[0]).attr("y", p.cover[1])
      .attr("width", p.cover[2]).attr("height", p.cover[3])
      .attr("fill", "#fff");
  }

  // big station label
  g.append("text")
    .attr("x", p.lab[0]).attr("y", p.lab[1])
    .style("font-family", "'Open Sans', 'Noto Sans', sans-serif")
    .style("font-size", "65px").attr("fill", "#000")
    .text(p.name);

  if (p.legend) {
    const lg = g.append("g");
    lg.append("rect").attr("x", 82.7).attr("y", 14.3).attr("width", 148.8).attr("height", 56.4)
      .attr("rx", 3).attr("fill", "#fff").attr("fill-opacity", 0.8)
      .attr("stroke", "#ccc").attr("stroke-width", 1);
    const items = [["Buoy Turb", TURB, 28.3], ["Model TSS", TSS, 54]];
    items.forEach(([t, c, yy]) => {
      lg.append("line").attr("x1", 89.7).attr("x2", 123.8).attr("y1", yy).attr("y2", yy)
        .attr("stroke", c).attr("stroke-opacity", 0.7).attr("stroke-width", 1);
      lg.append("text").attr("x", 135.5).attr("y", yy + 6.2)
        .style("font-size", "16px").attr("fill", "#111").text(t);
    });
  }

  if (p.axisLabels) {
    g.append("text")
      .attr("transform", `translate(25,${(p.top + p.bottom) / 2 + 1}) rotate(-90)`)
      .attr("text-anchor", "middle")
      .style("font-size", "16px").attr("fill", "#111")
      .text("TSS (mg/L)");
    g.append("text")
      .attr("x", (p.col.x0 + p.col.x1) / 2).attr("y", 1188.5)
      .attr("text-anchor", "middle")
      .style("font-size", "16.5px").attr("fill", "#111")
      .text("Days since 2012-1-1");
  }
});

// annotation at the bottom right
const note = svg.append("g")
  .style("font-family", "'Open Sans', 'Noto Sans', sans-serif")
  .style("font-weight", "700").style("font-size", "36px");
note.append("text").attr("x", 910).attr("y", 1027)
  .attr("textLength", 381).attr("lengthAdjust", "spacingAndGlyphs")
  .attr("fill", "#000").text("Obs: Turbidity *0.8");
const m = note.append("text").attr("x", 911).attr("y", 1082)
  .attr("textLength", 364).attr("lengthAdjust", "spacingAndGlyphs");
m.append("tspan").attr("fill", "#ff0000").text("Model: TSS (mg/l");
m.append("tspan").attr("fill", "#000").text(")");
</script>
</body>
</html>
